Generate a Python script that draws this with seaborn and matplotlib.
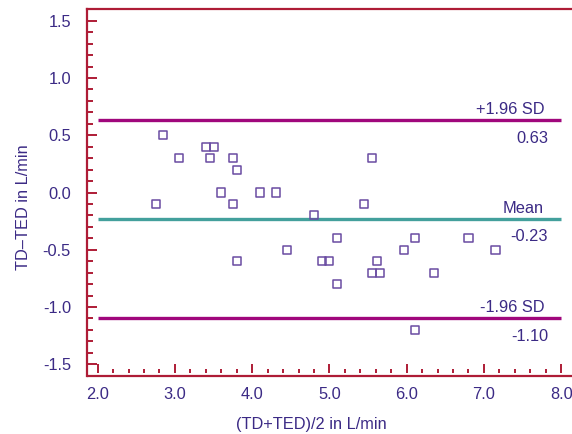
import matplotlib
matplotlib.use("Agg")
import matplotlib.pyplot as plt
import seaborn as sns
import numpy as np
import pandas as pd
from matplotlib.ticker import MultipleLocator, FormatStrFormatter

# ---- data ----
mean_values = [2.85, 3.40, 3.50, 3.05, 3.45, 3.75, 3.80, 3.60, 4.10, 4.31,
               2.75, 3.75, 4.80, 4.45, 3.80, 5.55, 5.45, 5.10, 6.11, 6.80,
               5.96, 7.15, 4.90, 5.00, 5.61, 5.55, 5.65, 6.35, 5.10, 6.11]
diff_values = [0.5, 0.4, 0.4, 0.3, 0.3, 0.3, 0.2, 0.0, 0.0, 0.0,
               -0.1, -0.1, -0.2, -0.5, -0.6, 0.3, -0.1, -0.4, -0.4, -0.4,
               -0.5, -0.5, -0.6, -0.6, -0.6, -0.7, -0.7, -0.7, -0.8, -1.2]
mean_diff = -0.23
upper_loa = 0.63
lower_loa = -1.10
line_labels = ["+1.96 SD", "Mean", "-1.96 SD"]
x_label = "(TD+TED)/2 in L/min"
y_label = "TD\u2013TED in L/min"

df = pd.DataFrame({"avg": mean_values, "diff": diff_values})

# ---- style ----
sns.set_style("white")
plt.rcParams["font.family"] = ["Liberation Sans", "DejaVu Sans"]
plt.rcParams["axes.unicode_minus"] = False

TEXT = "#3B2A85"
SPINE = "#AE1C36"
LOA = "#A0077C"
MEAN = "#43A09C"
MARK = "#6A4CA2"
FS = 11.8

W, H = 572, 434
fig = plt.figure(figsize=(W / 100, H / 100), dpi=100)
ax_left, ax_top, ax_bot = 86.5, 9.0, 372.7
ax = fig.add_axes([ax_left / W, 1 - ax_bot / H, 1 - ax_left / W, (ax_bot - ax_top) / H])

sns.scatterplot(data=df, x="avg", y="diff", ax=ax, marker="s", s=34,
                facecolor="none", edgecolor=MARK, linewidth=1.1, zorder=3)

ax.hlines([upper_loa, lower_loa], 2.0, 8.0, color=LOA, linewidth=2.4, zorder=2)
ax.hlines([mean_diff], 2.0, 8.0, color=MEAN, linewidth=2.4, zorder=2)

ax.set_xlim(1.855, 8.14)
ax.set_ylim(-1.574, 1.603)

# annotations
for val, name in zip([upper_loa, mean_diff, lower_loa], line_labels):
    ax.annotate(name, xy=(8.0, val), xytext=(-17, 6), textcoords="offset pixels",
                ha="right", va="baseline", fontsize=FS, color=TEXT)
    ax.annotate(f"{val:.2f}", xy=(8.0, val), xytext=(-13, -18), textcoords="offset pixels",
                ha="right", va="center", fontsize=FS, color=TEXT)

# spines
for side in ["right", "bottom"]:
    ax.spines[side].set_visible(False)
for side in ["left", "top"]:
    ax.spines[side].set_color(SPINE)
    ax.spines[side].set_linewidth(1.6)
ax.spines["left"].set_bounds(-1.6, 1.603)
ax.axhline(-1.6, 0, 1, color=SPINE, linewidth=1.6, clip_on=False)

# ticks
ax.xaxis.set_major_locator(MultipleLocator(1.0))
ax.xaxis.set_minor_locator(MultipleLocator(0.2))
ax.yaxis.set_major_locator(MultipleLocator(0.5))
ax.yaxis.set_minor_locator(MultipleLocator(0.1))
ax.xaxis.set_major_formatter(FormatStrFormatter("%.1f"))
ax.yaxis.set_major_formatter(FormatStrFormatter("%.1f"))
ax.tick_params(axis="x", which="major", direction="in", length=6.3, width=1.4,
               color=SPINE, labelsize=FS, labelcolor=TEXT, pad=10.3, bottom=True)
ax.tick_params(axis="x", which="minor", direction="in", length=2.7, width=1.4,
               color=SPINE, bottom=True)
ax.tick_params(axis="y", which="major", direction="in", length=7.2, width=1.4,
               color=SPINE, labelsize=FS, labelcolor=TEXT, pad=11.2, left=True)
ax.tick_params(axis="y", which="minor", direction="in", length=4.3, width=1.4,
               color=SPINE, left=True)

ax.set_xlabel("")
ax.set_ylabel("")
fig.text(311 / W, 1 - 425 / H, x_label, ha="center", va="center", fontsize=FS, color=TEXT)
fig.text(24 / W, 1 - 207 / H, y_label, ha="center", va="center", rotation=90,
         fontsize=FS, color=TEXT)

fig.savefig("out.png", dpi=100, facecolor="white")
